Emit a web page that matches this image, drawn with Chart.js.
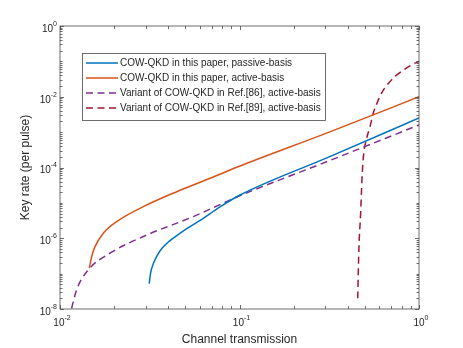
<!DOCTYPE html>
<html>
<head>
<meta charset="utf-8">
<script src="https://cdn.jsdelivr.net/npm/chart.js@4/dist/chart.umd.min.js"></script>
<style>
  html, body { margin: 0; padding: 0; background: #fff; }
  #chart { display: block; }
</style>
</head>
<body>
<canvas id="chart" width="463" height="348"></canvas>
<script>
// ---- data (log-log) ----
const passiveX = [0.0314, 0.0320, 0.0331, 0.0347, 0.0370, 0.0405, 0.0449, 0.0516, 0.0603, 0.0779, 0.1007, 0.316, 1.0];
const passiveY = [5.2e-8, 1.06e-7, 1.9e-7, 3.19e-7, 5.19e-7, 8.18e-7, 1.21e-6, 1.96e-6, 3.2e-6, 7.7e-6, 1.67e-5, 2.0e-4, 2.5e-3];

const activeX = [0.01456, 0.01502, 0.01567, 0.01743, 0.0207, 0.0291, 0.0447, 0.0685, 0.1007, 0.316, 1.0];
const activeY = [1.43e-7, 3.05e-7, 5.8e-7, 1.39e-6, 2.95e-6, 7.8e-6, 2.07e-5, 4.95e-5, 1.1e-4, 1.0e-3, 1.0e-2];

const ref86X = [0.0112, 0.0124, 0.0144, 0.019, 0.0291, 0.0553, 0.1007, 0.316, 1.0];
const ref86Y = [5e-9, 3.56e-8, 1.29e-7, 3.8e-7, 1.12e-6, 4.1e-6, 1.6e-5, 1.55e-4, 1.6e-3];

const ref89X = [0.4555, 0.463, 0.473, 0.481, 0.490, 0.511, 0.533, 0.556, 0.581, 0.6065, 0.638, 0.681, 0.744, 0.825, 0.914, 1.0];
const ref89Y = [2.0e-8, 5.9e-7, 5.1e-6, 4.5e-5, 2.0e-4, 6.7e-4, 1.4e-3, 3.4e-3, 6.2e-3, 1.04e-2, 1.64e-2, 2.5e-2, 3.94e-2, 5.81e-2, 8.04e-2, 0.1005];

const seriesLabels = [
  'COW-QKD in this paper, passive-basis',
  'COW-QKD in this paper, active-basis',
  'Variant of COW-QKD in Ref.[86], active-basis',
  'Variant of COW-QKD in Ref.[89], active-basis'
];
const seriesColors = ['#0072BD', '#D95319', '#7E2F8E', '#A2142F'];

const xTickExps = [-2, -1, 0];
const yTickExps = [0, -2, -4, -6, -8];

const xTitle = 'Channel transmission';
const yTitle = 'Key rate (per pulse)';

const FONT = '"Liberation Sans", Arial, Helvetica, sans-serif';
const TEXT_COLOR = '#262626';

function toPoints(xs, ys) {
  return xs.map((x, i) => ({ x: x, y: ys[i] }));
}

function makeSet(i, xs, ys, dashed) {
  return {
    label: seriesLabels[i],
    data: toPoints(xs, ys),
    borderColor: seriesColors[i],
    backgroundColor: seriesColors[i],
    borderWidth: 1.5,
    borderDash: dashed ? [7, 4.5] : [],
    showLine: true,
    pointRadius: 0,
    cubicInterpolationMode: 'monotone',
    fill: false
  };
}

// draws "10" with a raised exponent
function drawPow(ctx, exp, x, cy, align) {
  const base = '10';
  const sup = String(exp);
  ctx.font = '10px ' + FONT;
  const wb = ctx.measureText(base).width;
  ctx.font = '7px ' + FONT;
  const ws = ctx.measureText(sup).width;
  let left = align === 'right' ? x - wb - ws : x - (wb + ws) / 2;
  ctx.textBaseline = 'middle';
  ctx.textAlign = 'left';
  ctx.font = '10px ' + FONT;
  ctx.fillText(base, left, cy);
  ctx.font = '7px ' + FONT;
  ctx.fillText(sup, left + wb, cy - 5);
}

const matlabAxes = {
  id: 'matlabAxes',
  afterDatasetsDraw(chart) {
    const ctx = chart.ctx;
    const a = chart.chartArea;
    const xs = chart.scales.x;
    const ys = chart.scales.y;
    ctx.save();

    // box
    ctx.strokeStyle = '#4a4a4a';
    ctx.lineWidth = 0.8;
    ctx.strokeRect(a.left, a.top, a.right - a.left, a.bottom - a.top);

    // ticks pointing inwards, on all four sides
    ctx.beginPath();
    for (let e = -2; e <= 0; e++) {
      for (let m = 1; m <= 9; m++) {
        const v = m * Math.pow(10, e);
        if (v > 1) break;
        const px = Math.round(xs.getPixelForValue(v)) + 0.5;
        const len = m === 1 ? 4 : 3;
        ctx.moveTo(px, a.bottom); ctx.lineTo(px, a.bottom - len);
        ctx.moveTo(px, a.top); ctx.lineTo(px, a.top + len);
      }
    }
    for (let e = -8; e <= 0; e++) {
      for (let m = 1; m <= 9; m++) {
        const v = m * Math.pow(10, e);
        if (v > 1) break;
        const py = Math.round(ys.getPixelForValue(v)) + 0.5;
        const len = (m === 1 && e % 2 === 0) ? 4 : 2.5;
        ctx.moveTo(a.left, py); ctx.lineTo(a.left + len, py);
        ctx.moveTo(a.right, py); ctx.lineTo(a.right - len, py);
      }
    }
    ctx.stroke();

    // tick labels
    ctx.fillStyle = TEXT_COLOR;
    xTickExps.forEach(e => {
      drawPow(ctx, e, xs.getPixelForValue(Math.pow(10, e)) + 2, a.bottom + 14, 'center');
    });
    yTickExps.forEach(e => {
      drawPow(ctx, e, a.left - 3, ys.getPixelForValue(Math.pow(10, e)) + 3, 'right');
    });

    // axis titles
    ctx.font = '12px ' + FONT;
    ctx.textAlign = 'center';
    ctx.textBaseline = 'middle';
    ctx.fillText(xTitle, (a.left + a.right) / 2, a.bottom + 31);
    ctx.save();
    ctx.translate(26, (a.top + a.bottom) / 2);
    ctx.rotate(-Math.PI / 2);
    ctx.fillText(yTitle, 0, 0);
    ctx.restore();

    // legend box
    const lx = 82.5, ly = 53.5, lw = 243, lh = 67;
    ctx.fillStyle = '#fff';
    ctx.fillRect(lx, ly, lw, lh);
    ctx.strokeStyle = '#4a4a4a';
    ctx.lineWidth = 0.8;
    ctx.strokeRect(lx, ly, lw, lh);
    ctx.font = '10px ' + FONT;
    ctx.textAlign = 'left';
    chart.data.datasets.forEach((ds, i) => {
      const yy = 63 + i * 15;
      ctx.strokeStyle = ds.borderColor;
      ctx.lineWidth = 1.5;
      ctx.setLineDash(ds.borderDash);
      ctx.beginPath();
      ctx.moveTo(86, yy);
      ctx.lineTo(118, yy);
      ctx.stroke();
      ctx.setLineDash([]);
      ctx.fillStyle = TEXT_COLOR;
      ctx.fillText(ds.label, 120, yy);
    });

    ctx.restore();
  }
};

new Chart(document.getElementById('chart'), {
  type: 'scatter',
  data: {
    datasets: [
      makeSet(0, passiveX, passiveY, false),
      makeSet(1, activeX, activeY, false),
      makeSet(2, ref86X, ref86Y, true),
      makeSet(3, ref89X, ref89Y, true)
    ]
  },
  options: {
    responsive: false,
    devicePixelRatio: 1,
    animation: false,
    layout: { padding: { left: 60, right: 44, top: 26, bottom: 39 } },
    scales: {
      x: { type: 'logarithmic', min: 0.01, max: 1, display: false },
      y: { type: 'logarithmic', min: 1e-8, max: 1, display: false }
    },
    plugins: {
      legend: { display: false },
      tooltip: { enabled: false }
    }
  },
  plugins: [matlabAxes]
});
</script>
</body>
</html>
